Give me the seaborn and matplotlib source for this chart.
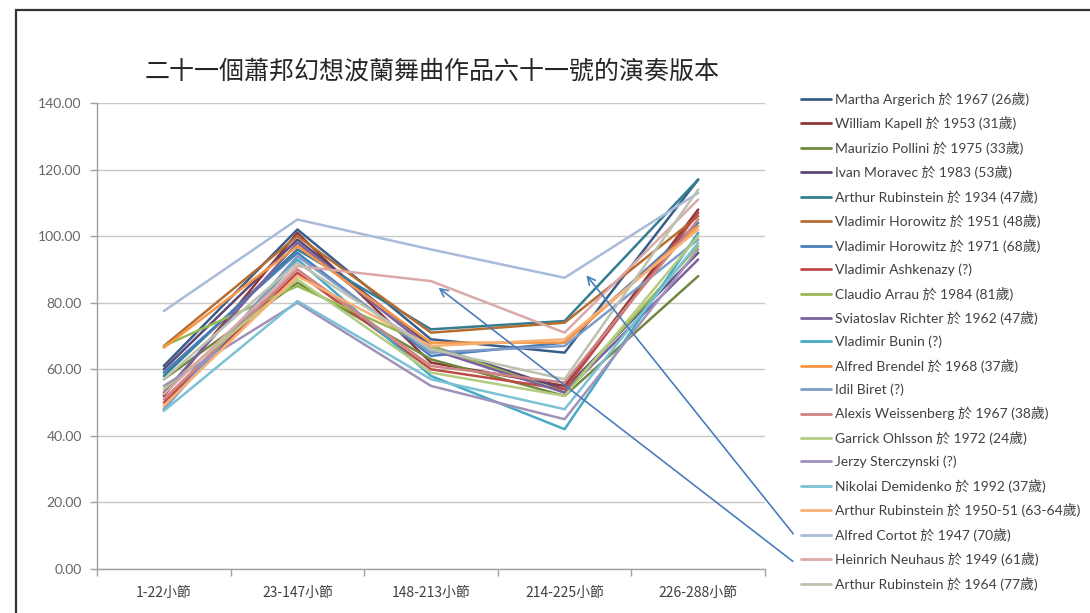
import matplotlib
matplotlib.use("Agg")
import matplotlib.pyplot as plt
from matplotlib.patches import Rectangle
from matplotlib.ticker import FixedLocator, FuncFormatter
import numpy as np
import pandas as pd
import seaborn as sns

# Sections of the Polonaise-Fantaisie (bar ranges)
sections = ["1-22小節", "23-147小節", "148-213小節", "214-225小節", "226-288小節"]

performers = [
    "Martha Argerich 於 1967 (26歲)",
    "William Kapell 於 1953 (31歲)",
    "Maurizio Pollini 於 1975 (33歲)",
    "Ivan Moravec 於 1983 (53歲)",
    "Arthur Rubinstein 於 1934 (47歲)",
    "Vladimir Horowitz 於 1951 (48歲)",
    "Vladimir Horowitz 於 1971 (68歲)",
    "Vladimir Ashkenazy (?)",
    "Claudio Arrau 於 1984 (81歲)",
    "Sviatoslav Richter 於 1962 (47歲)",
    "Vladimir Bunin (?)",
    "Alfred Brendel 於 1968 (37歲)",
    "Idil Biret (?)",
    "Alexis Weissenberg 於 1967 (38歲)",
    "Garrick Ohlsson 於 1972 (24歲)",
    "Jerzy Sterczynski (?)",
    "Nikolai Demidenko 於 1992 (37歲)",
    "Arthur Rubinstein 於 1950-51 (63-64歲)",
    "Alfred Cortot 於 1947 (70歲)",
    "Heinrich Neuhaus 於 1949 (61歲)",
    "Arthur Rubinstein 於 1964 (77歲)",
]

# Duration of each section, one value per performer (same order as above)
sec_1_22 = [61, 52, 57, 60, 58, 67, 59, 50, 67, 53, 48, 66.5, 48, 51, 54, 55, 47.5, 49, 77.5, 52.5, 57]
sec_23_147 = [102, 101, 86, 99, 96, 100, 95, 89, 85, 98, 93, 97, 94, 90, 87, 80, 80.5, 88, 105, 91, 92]
sec_148_213 = [69, 62, 63, 67, 72, 71, 64, 60, 67, 66, 58, 68, 65, 61, 59, 55, 57, 67, 96, 86.5, 66]
sec_214_225 = [65, 55, 52, 54, 74.5, 74, 68, 54, 53, 53, 42, 68, 67, 56, 52, 45, 48, 69, 87.5, 71, 57]
sec_226_288 = [117, 108, 88, 95, 117, 106, 104, 107, 97, 93, 101, 103, 99, 105, 100, 96, 98, 102, 113, 111, 114]

colors = [
    "#385D8A", "#8C3836", "#71893F", "#5C4776", "#357D91", "#B66D31",
    "#4A7EBB", "#BE4B48", "#98B954", "#7D60A0", "#46AAC5", "#F69544",
    "#7E9BC8", "#CD8482", "#B3CC82", "#A092B9", "#7CC1D5", "#F9B074",
    "#A9BBDA", "#DBA9A8", "#BDC2B0",
]

columns = [sec_1_22, sec_23_147, sec_148_213, sec_214_225, sec_226_288]
rows = []
for i, name in enumerate(performers):
    for sec, col in zip(sections, columns):
        rows.append({"performer": name, "section": sec, "value": col[i]})
df = pd.DataFrame(rows)

sns.set_theme(style="white")
plt.rcParams["font.family"] = ["Lato", "Noto Sans CJK TC", "DejaVu Sans"]

W, H = 1090, 613
fig = plt.figure(figsize=(W / 100, H / 100), dpi=100)
fig.patch.set_facecolor("white")
ax = fig.add_axes([97 / W, 1 - 569 / H, (765 - 97) / W, (569 - 103) / H])

sns.lineplot(
    data=df, x="section", y="value", hue="performer", hue_order=performers,
    palette=colors, sort=False, linewidth=1.8, ax=ax, legend=True,
)

# Axes styling
ax.set_ylim(0, 140)
ax.set_xlim(-0.5, len(sections) - 0.5)
ax.set_yticks(np.arange(0, 141, 20))
ax.yaxis.set_major_formatter(FuncFormatter(lambda v, p: f"{v:.2f}"))
ax.yaxis.grid(True, color="#C8C8C8", linewidth=1.0)
ax.set_axisbelow(True)
ax.set_xlabel("")
ax.set_ylabel("")
for s in ["top", "right"]:
    ax.spines[s].set_visible(False)
for s in ["left", "bottom"]:
    ax.spines[s].set_color("#A0A0A0")
    ax.spines[s].set_linewidth(1.0)

ax.tick_params(axis="y", which="major", left=True, length=5, width=1, color="#A0A0A0",
               pad=6, labelsize=10, labelcolor="#666666")
ax.tick_params(axis="x", which="major", bottom=False, length=0, pad=12, labelsize=10,
               labelcolor="#404040")
ax.xaxis.set_minor_locator(FixedLocator(np.arange(-0.5, len(sections), 1.0)))
ax.tick_params(axis="x", which="minor", bottom=True, length=5, width=1, color="#A0A0A0")
for lab in ax.get_xticklabels():
    lab.set_fontfamily(["Noto Sans CJK TC", "DejaVu Sans"])

# Legend on the right
handles, labels = ax.get_legend_handles_labels()
ax.legend(
    handles, labels, loc="upper left", bbox_to_anchor=(795 / W, 1 - 86 / H),
    bbox_transform=fig.transFigure, frameon=False, fontsize=10,
    handlelength=2.2, handletextpad=0.25, labelspacing=0.76, borderaxespad=0,
    labelcolor="#404040",
)
for line in ax.get_legend().get_lines():
    line.set_linewidth(2.0)

# Title
fig.text(432 / W, 1 - 72 / H, "二十一個蕭邦幻想波蘭舞曲作品六十一號的演奏版本",
         ha="center", va="center", fontsize=18, color="#262626",
         family=["Noto Sans CJK TC", "DejaVu Sans"])

# Callout arrows from legend entries to their lines
arrow_kw = dict(arrowstyle="->", color="#4A7EBB", lw=1.2, mutation_scale=14)
ax.annotate("", xy=(3.15, 88.9), xycoords="data", xytext=(795, H - 536),
            textcoords="figure pixels", arrowprops=arrow_kw, annotation_clip=False)
ax.annotate("", xy=(2.04, 85.0), xycoords="data", xytext=(795, H - 563),
            textcoords="figure pixels", arrowprops=arrow_kw, annotation_clip=False)

# Outer frame
fig.add_artist(Rectangle((16 / W, -0.05), 1.2, 1.05 - 10 / H, transform=fig.transFigure,
                         fill=False, edgecolor="#333333", linewidth=1.6))

fig.savefig("out.png", dpi=100, facecolor="white")
